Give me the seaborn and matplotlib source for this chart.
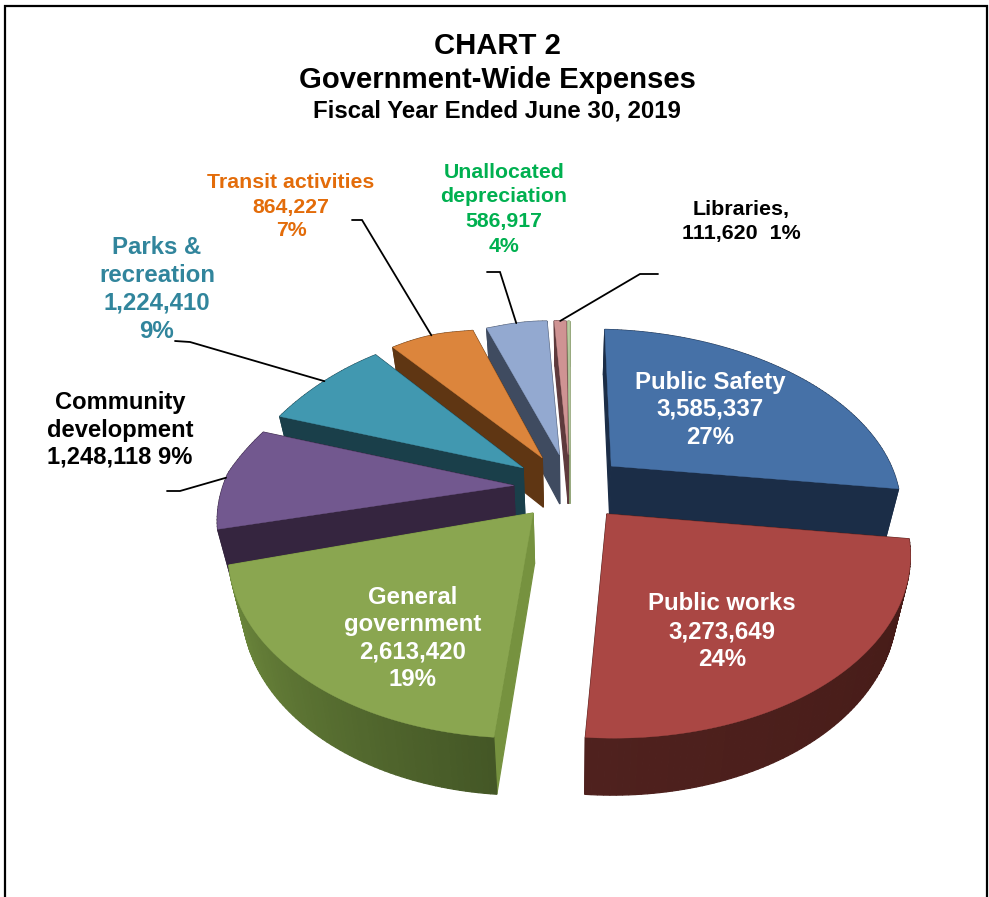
import numpy as np
import matplotlib
matplotlib.use("Agg")
import matplotlib.pyplot as plt
from matplotlib.colors import to_rgb
import seaborn as sns

sns.set_theme(style="white")
plt.rcParams["font.family"] = ["Liberation Sans", "DejaVu Sans"]

# Expenses by function, in slice order clockwise from twelve o'clock
categories = ["Public Safety", "Public works", "General government",
              "Community development", "Parks & recreation",
              "Transit activities", "Unallocated depreciation", "Libraries", "Other"]
expenses = [3585337, 3273649, 2613420, 1248118, 1224410, 864227, 586917, 111620, 20000]
percent_labels = ["27%", "24%", "19%", "9%", "9%", "7%", "4%", "1%", ""]

top_colors = ["#4671A7", "#AA4744", "#8AA650", "#72588F", "#4198B0",
              "#DC853C", "#93A9D0", "#CF9393", "#B9CDA2"]
wall_colors = ["#1B2D47", "#4A1D19", "#76923F", "#35253F", "#1A3F4A",
               "#5F3613", "#3F4B60", "#5E3A3C", "#8CA070"]
arc_wall_start = ["#1B2D47", "#451B17", "#445726", "#35253F", "#1A3F4A",
                  "#5F3613", "#3F4B60", "#5E3A3C", "#8CA070"]
arc_wall_end = ["#1B2D47", "#4F211E", "#708C3E", "#35253F", "#1A3F4A",
                "#5F3613", "#3F4B60", "#5E3A3C", "#8CA070"]
palette = sns.color_palette(top_colors)

# Projection of the tilted pie on the page (page pixels)
CX, CY = 570.0, 487.0
RX, RY = 290.0, 170.0
TILT = 0.19
EXPLODE = 0.197
START = 90.0
draw_order = [8, 7, 6, 5, 4, 0, 3, 2, 1]


def project(x, y):
    s = 1.0 / (1.0 + TILT * y)
    px = RX * x * s
    py = -RY * y * s
    left = np.maximum(-px, 0.0)
    back = np.maximum(-py, 0.0)
    # the camera sits right of centre, which pulls in the far left quarter
    warp_x = 2.2e-6 * left ** 2 * back + 0.015 * left
    warp_y = np.where(py < 60, 0.015 * left, 0.0)
    # the rim just left of the far point sags slightly
    sag = 4.0 * np.exp(-((left - 95.0) / 40.0) ** 2) * (back > 100)
    return (CX + px - 0.065 * np.maximum(py, 0.0) + warp_x,
            CY + py + 0.025 * px - warp_y + sag)


def extrude(px, py):
    return px + 0.04 * (CX - px), py + 50.0 + 0.028 * (py - CY)


def blend(a, b, t):
    a, b = np.array(to_rgb(a)), np.array(to_rgb(b))
    return tuple(a + (b - a) * t)


fig = plt.figure(figsize=(9.89, 8.97), dpi=100)
ax = fig.add_axes([0, 0, 1, 1])
ax.set_xlim(0, 989)
ax.set_ylim(897, 0)
ax.axis("off")

total = float(sum(expenses))
edges = START - 360.0 * np.concatenate([[0.0], np.cumsum(expenses)]) / total
arc_mid = {}
slice_geometry = {}

for i in range(len(expenses)):
    a0, a1 = np.radians(edges[i]), np.radians(edges[i + 1])
    mid = 0.5 * (a0 + a1)
    ox, oy = EXPLODE * np.cos(mid), EXPLODE * np.sin(mid)
    angles = np.linspace(a0, a1, max(6, int(abs(edges[i] - edges[i + 1]) / 1.0)))
    ax_arc, ay_arc = project(np.cos(angles) + ox, np.sin(angles) + oy)
    apex_x, apex_y = project(ox, oy)
    slice_geometry[i] = (ax_arc, ay_arc, float(apex_x), float(apex_y))
    mx, my = project(np.cos(mid) + ox, np.sin(mid) + oy)
    arc_mid[i] = (float(mx), float(my))

for z, i in enumerate(draw_order):
    xs, ys, apex_x, apex_y = slice_geometry[i]
    base = 2 + z * 2
    faces = []
    # outer rim, shaded along the arc
    for j in range(len(xs) - 1):
        t = j / max(1, len(xs) - 2)
        faces.append(([xs[j], xs[j + 1]], [ys[j], ys[j + 1]],
                      blend(arc_wall_start[i], arc_wall_end[i], t)))
    # the two straight cut faces
    faces.append(([apex_x, xs[0]], [apex_y, ys[0]], to_rgb(wall_colors[i])))
    faces.append(([xs[-1], apex_x], [ys[-1], apex_y], to_rgb(wall_colors[i])))
    faces.sort(key=lambda f: np.mean(f[1]))
    for fx, fy, col in faces:
        fx, fy = np.array(fx), np.array(fy)
        bx, by = extrude(fx, fy)
        ax.fill([fx[0], fx[1], bx[1], bx[0]], [fy[0], fy[1], by[1], by[0]],
                facecolor=col, edgecolor=col, linewidth=0.9, zorder=base)
    ax.fill(np.r_[apex_x, xs], np.r_[apex_y, ys], facecolor=palette[i],
            edgecolor=palette[i], linewidth=0.3, zorder=base + 1)

# Leader lines from the middle of each rim out to its label
leader_elbows = {
    3: [(180, 491), (167, 491)],
    4: [(190, 342), (175, 341)],
    5: [(362, 220), (352, 220)],
    6: [(500, 272), (487, 272)],
    7: [(640, 274), (658, 274)],
}
for i, pts in leader_elbows.items():
    path = [arc_mid[i]] + pts
    ax.plot([p[0] for p in path], [p[1] for p in path], color="black",
            lw=1.3, zorder=30, solid_joinstyle="miter")


def put(lines, x, ys, color, px):
    for line, y in zip(lines, ys):
        ax.text(x, y + 2, line, ha="center", va="center", color=color,
                fontsize=px * 0.72, fontweight="bold", zorder=40)


fmt = [f"{v:,}" for v in expenses]

put(["CHART 2", "Government-Wide Expenses"], 497, [44, 78], "black", 29.3)
put(["Fiscal Year Ended June 30, 2019"], 497, [109], "black", 24)

put(["Public Safety", fmt[0], percent_labels[0]], 710, [380, 407, 435], "white", 24)
put(["Public works", fmt[1], percent_labels[1]], 722, [601, 630, 658], "white", 24)
put(["General", "government", fmt[2], percent_labels[2]], 413,
    [595, 623, 650, 678], "white", 24)
put(["Community", "development", f"{fmt[3]} {percent_labels[3]}"], 120,
    [400, 428, 455], "black", 23.8)
put(["Parks &", "recreation", fmt[4], percent_labels[4]], 157,
    [246, 273, 301, 329], "#31859C", 24)
put(["Transit activities", fmt[5], percent_labels[5]], 291,
    [181, 205, 229], "#E36C0A", 21.3)
put(["Unallocated", "depreciation", fmt[6], percent_labels[6]], 504,
    [171, 195, 220, 245], "#00B050", 21.3)
put(["Libraries,", f"{fmt[7]}  {percent_labels[7]}"], 741, [208, 232], "black", 21.5)

# Page border, running off the lower edge
ax.plot([4.5, 4.5, 987, 987], [897, 6.5, 6.5, 897], color="black", lw=1.6,
        zorder=50, clip_on=False, solid_joinstyle="miter")

fig.savefig("out.png", dpi=100, facecolor="white")
